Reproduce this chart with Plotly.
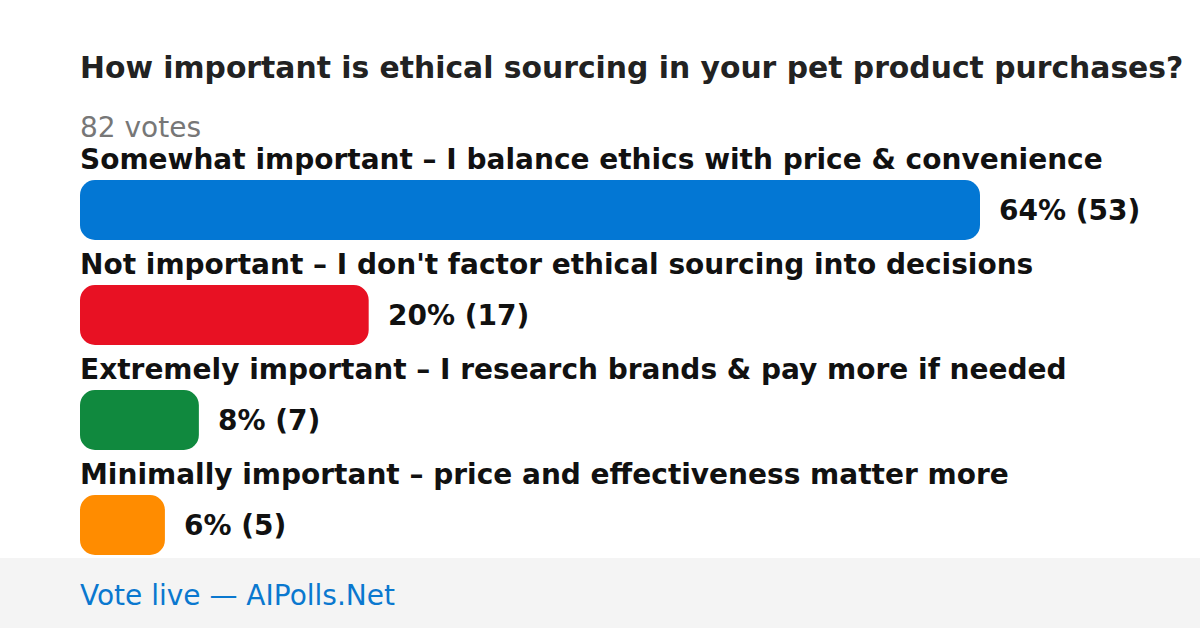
import plotly.graph_objects as go

title = "How important is ethical sourcing in your pet product purchases?"
total_label = "82 votes"
categories = [
    "Somewhat important – I balance ethics with price & convenience",
    "Not important – I don't factor ethical sourcing into decisions",
    "Extremely important – I research brands & pay more if needed",
    "Minimally important – price and effectiveness matter more",
]
votes = [53, 17, 7, 5]
percents = [64, 20, 8, 6]
colors = ["#0377D4", "#E81123", "#10893E", "#FF8C00"]
footer = "Vote live — AIPolls.Net"

W, H = 1200, 628
FONT = "DejaVu Sans"
idx = list(range(len(categories)))

fig = go.Figure()
fig.add_trace(go.Bar(
    x=votes, y=idx, base=[0] * len(votes), orientation="h",
    marker=dict(color=colors, line=dict(width=0), cornerradius=15),
    width=60 / 105, hoverinfo="skip",
))

ann = []
for i, (c, v, p) in enumerate(zip(categories, votes, percents)):
    ann.append(dict(x=0, y=i - 51 / 105, xref="x", yref="y", text=f"<b>{c}</b>",
                    showarrow=False, xanchor="left", yanchor="middle", xshift=-2,
                    font=dict(family=FONT, size=28, color="#111111")))
    ann.append(dict(x=v, y=i, xref="x", yref="y", text=f"<b>{p}% ({v})</b>",
                    showarrow=False, xanchor="left", yanchor="middle", xshift=17,
                    font=dict(family=FONT, size=28, color="#111111")))

ann.append(dict(x=80 / W, y=1 - 68 / H, xref="paper", yref="paper", text=f"<b>{title}</b>",
                showarrow=False, xanchor="left", yanchor="middle", xshift=-2,
                font=dict(family=FONT, size=29.8, color="#222222")))
ann.append(dict(x=80 / W, y=1 - 127 / H, xref="paper", yref="paper", text=total_label,
                showarrow=False, xanchor="left", yanchor="middle", xshift=-2,
                font=dict(family=FONT, size=28, color="#777777")))
ann.append(dict(x=80 / W, y=1 - 595 / H, xref="paper", yref="paper", text=footer,
                showarrow=False, xanchor="left", yanchor="middle", xshift=-2,
                font=dict(family=FONT, size=28, color="#0A78CF")))

fig.update_layout(
    width=W, height=H, autosize=False,
    margin=dict(l=0, r=0, t=0, b=0),
    paper_bgcolor="white", plot_bgcolor="white",
    showlegend=False, barmode="overlay",
    xaxis=dict(domain=[80 / W, 1], range=[0, max(votes) * 1120 / 900],
               showgrid=False, zeroline=False, showticklabels=False, fixedrange=True),
    yaxis=dict(range=[-2 + 628 / 105, -2], showgrid=False, zeroline=False,
               showticklabels=False, fixedrange=True),
    shapes=[dict(type="rect", xref="paper", yref="paper", x0=0, x1=1,
                 y0=0, y1=(H - 558) / H, fillcolor="#F4F4F4", line=dict(width=0),
                 layer="below")],
    annotations=ann,
)

fig.write_html(
    "out.html",
    config={"displayModeBar": False},
    post_script="document.body.style.margin='0';document.body.style.overflow='hidden';",
)
